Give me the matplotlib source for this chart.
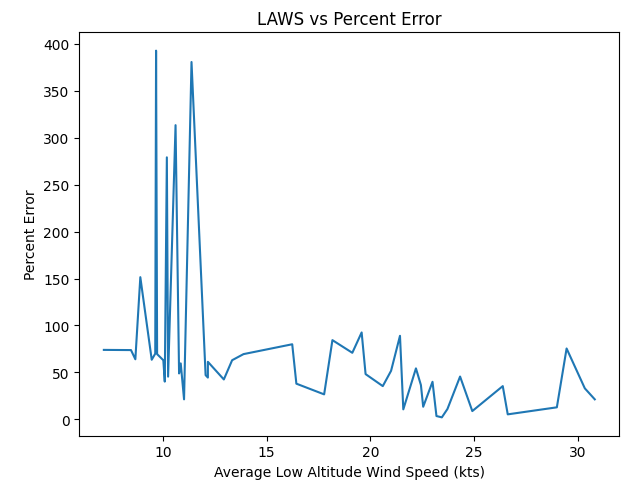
import matplotlib
matplotlib.use('Agg')
import matplotlib.pyplot as plt

# Average low altitude wind speed (kts) and percent error
laws = [7.14, 8.45, 8.66, 8.90, 9.45, 9.62, 9.66, 9.71, 10.01, 10.08,
        10.18, 10.24, 10.60, 10.77, 10.85, 11.01, 11.37, 12.05, 12.16, 12.16,
        12.93, 13.33, 13.88, 16.23, 16.43, 17.77, 18.17, 19.13, 19.58, 19.77,
        20.60, 21.00, 21.43, 21.59, 22.20, 22.44, 22.55, 23.00, 23.19, 23.45,
        23.72, 24.33, 24.92, 26.39, 26.63, 29.00, 29.47, 30.35, 30.83]
pct_error = [74.0, 73.8, 64.0, 151.5, 63.5, 70.0, 392.9, 69.5, 63.0, 40.2,
             279.2, 45.5, 313.5, 48.9, 59.6, 21.3, 380.8, 47.1, 44.5, 61.3,
             42.5, 63.0, 69.5, 80.0, 38.0, 26.6, 84.4, 70.9, 92.6, 48.2,
             35.4, 51.7, 89.0, 10.6, 54.3, 36.5, 13.4, 40.0, 3.5, 2.1,
             11.0, 45.6, 8.8, 35.4, 5.3, 12.8, 75.5, 33.0, 21.3]

fig = plt.figure(figsize=(6.22, 4.85), dpi=100)
ax = fig.add_axes([0.1275, 0.0996, 0.8682, 0.8317])

ax.plot(laws, pct_error)
ax.set_title('LAWS vs Percent Error')
ax.set_xlabel('Average Low Altitude Wind Speed (kts)')
ax.set_ylabel('Percent Error')

fig.savefig('out.png', dpi=100)
plt.close(fig)
